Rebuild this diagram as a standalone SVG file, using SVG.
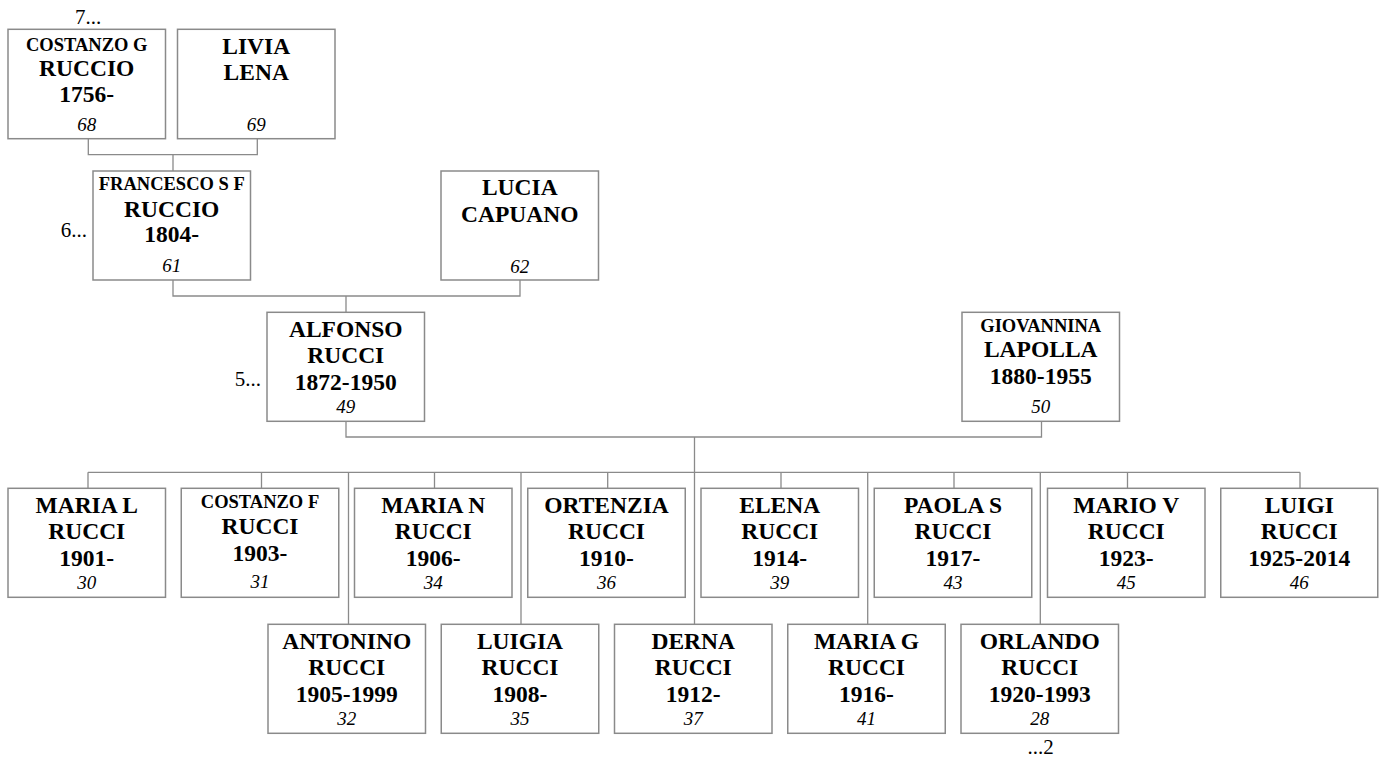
<svg xmlns="http://www.w3.org/2000/svg" width="1381" height="760" viewBox="0 0 1381 760">
<style>
rect.b{fill:#fff;stroke:#8a8a8a;stroke-width:1.5}
.c path{fill:none;stroke:#8a8a8a;stroke-width:1.3}
text{font-family:"Liberation Serif","Times New Roman",serif;fill:#000;text-anchor:middle}
.n{font-weight:bold;font-size:23.5px}
.s{font-weight:bold;font-size:18.5px}
.i{font-style:italic;font-size:19px}
.g{font-size:21px}
</style>
<rect width="1381" height="760" fill="#fff"/>
<g class="c" id="connectors">
<path d="M88.3,138.7V154.7H257.3V138.7M173,154.7V171"/>
<path d="M173,280V296H520V280M346,296V312.3"/>
<path d="M346,421.3V437H1041.5V421.3M694.5,437V624.3"/>
<path d="M88,472.3H1300"/>
<path d="M88,472.3V488.3M261.5,472.3V488.3M434.5,472.3V488.3M607.7,472.3V488.3M781,472.3V488.3M954,472.3V488.3M1127.5,472.3V488.3M1300,472.3V488.3"/>
<path d="M348.5,472.3V624.3M521,472.3V624.3M867.7,472.3V624.3M1040.3,472.3V624.3"/>
</g>
<text class="g" x="88" y="24">7...</text>
<text class="g" x="87" y="237" style="text-anchor:end">6...</text>
<text class="g" x="261" y="386" style="text-anchor:end">5...</text>
<text class="g" x="1040.5" y="754">...2</text>
<g id="n68"><rect class="b" x="8" y="29.3" width="157.5" height="109.4"/>
<text class="s" x="86.75" y="50.7">COSTANZO G</text><text class="n" x="86.75" y="76">RUCCIO</text><text class="n" x="86.75" y="101.7">1756-</text><text class="i" x="86.75" y="130.7">68</text></g>
<g id="n69"><rect class="b" x="177.5" y="29.3" width="157.5" height="109.4"/>
<text class="n" x="256.25" y="54">LIVIA</text><text class="n" x="256.25" y="80">LENA</text><text class="i" x="256.25" y="130.7">69</text></g>
<g id="n61"><rect class="b" x="93" y="171" width="157.5" height="109"/>
<text class="s" x="171.75" y="190">FRANCESCO S F</text><text class="n" x="171.75" y="216.5">RUCCIO</text><text class="n" x="171.75" y="242.3">1804-</text><text class="i" x="171.75" y="272.3">61</text></g>
<g id="n62"><rect class="b" x="441" y="171" width="157.5" height="109"/>
<text class="n" x="519.75" y="195">LUCIA</text><text class="n" x="519.75" y="221.7">CAPUANO</text><text class="i" x="519.75" y="273.3">62</text></g>
<g id="n49"><rect class="b" x="267" y="312.3" width="157.5" height="109"/>
<text class="n" x="345.75" y="336.8">ALFONSO</text><text class="n" x="345.75" y="363.3">RUCCI</text><text class="n" x="345.75" y="389.8">1872-1950</text><text class="i" x="345.75" y="412.6">49</text></g>
<g id="n50"><rect class="b" x="962" y="312.3" width="157.5" height="109"/>
<text class="s" x="1040.75" y="331.7">GIOVANNINA</text><text class="n" x="1040.75" y="357.3">LAPOLLA</text><text class="n" x="1040.75" y="384">1880-1955</text><text class="i" x="1040.75" y="412.7">50</text></g>
<g id="n30"><rect class="b" x="8" y="488.3" width="157.5" height="109"/>
<text class="n" x="86.75" y="512.8">MARIA L</text><text class="n" x="86.75" y="539.3">RUCCI</text><text class="n" x="86.75" y="565.8">1901-</text><text class="i" x="86.75" y="588.6">30</text></g>
<g id="n31"><rect class="b" x="181.25" y="488.3" width="157.5" height="109"/>
<text class="s" x="260" y="508.3">COSTANZO F</text><text class="n" x="260" y="534.3">RUCCI</text><text class="n" x="260" y="561">1903-</text><text class="i" x="260" y="587.7">31</text></g>
<g id="n34"><rect class="b" x="354.5" y="488.3" width="157.5" height="109"/>
<text class="n" x="433.25" y="512.8">MARIA N</text><text class="n" x="433.25" y="539.3">RUCCI</text><text class="n" x="433.25" y="565.8">1906-</text><text class="i" x="433.25" y="588.6">34</text></g>
<g id="n36"><rect class="b" x="527.75" y="488.3" width="157.5" height="109"/>
<text class="n" x="606.5" y="512.8">ORTENZIA</text><text class="n" x="606.5" y="539.3">RUCCI</text><text class="n" x="606.5" y="565.8">1910-</text><text class="i" x="606.5" y="588.6">36</text></g>
<g id="n39"><rect class="b" x="701" y="488.3" width="157.5" height="109"/>
<text class="n" x="779.75" y="512.8">ELENA</text><text class="n" x="779.75" y="539.3">RUCCI</text><text class="n" x="779.75" y="565.8">1914-</text><text class="i" x="779.75" y="588.6">39</text></g>
<g id="n43"><rect class="b" x="874.25" y="488.3" width="157.5" height="109"/>
<text class="n" x="953" y="512.8">PAOLA S</text><text class="n" x="953" y="539.3">RUCCI</text><text class="n" x="953" y="565.8">1917-</text><text class="i" x="953" y="588.6">43</text></g>
<g id="n45"><rect class="b" x="1047.5" y="488.3" width="157.5" height="109"/>
<text class="n" x="1126.25" y="512.8">MARIO V</text><text class="n" x="1126.25" y="539.3">RUCCI</text><text class="n" x="1126.25" y="565.8">1923-</text><text class="i" x="1126.25" y="588.6">45</text></g>
<g id="n46"><rect class="b" x="1220.75" y="488.3" width="157" height="109"/>
<text class="n" x="1299.25" y="512.8">LUIGI</text><text class="n" x="1299.25" y="539.3">RUCCI</text><text class="n" x="1299.25" y="565.8">1925-2014</text><text class="i" x="1299.25" y="588.6">46</text></g>
<g id="n32"><rect class="b" x="268" y="624.3" width="157.5" height="109"/>
<text class="n" x="346.75" y="648.8">ANTONINO</text><text class="n" x="346.75" y="675.3">RUCCI</text><text class="n" x="346.75" y="701.8">1905-1999</text><text class="i" x="346.75" y="724.6">32</text></g>
<g id="n35"><rect class="b" x="441.25" y="624.3" width="157.5" height="109"/>
<text class="n" x="520" y="648.8">LUIGIA</text><text class="n" x="520" y="675.3">RUCCI</text><text class="n" x="520" y="701.8">1908-</text><text class="i" x="520" y="724.6">35</text></g>
<g id="n37"><rect class="b" x="614.5" y="624.3" width="157.5" height="109"/>
<text class="n" x="693.25" y="648.8">DERNA</text><text class="n" x="693.25" y="675.3">RUCCI</text><text class="n" x="693.25" y="701.8">1912-</text><text class="i" x="693.25" y="724.6">37</text></g>
<g id="n41"><rect class="b" x="787.75" y="624.3" width="157.5" height="109"/>
<text class="n" x="866.5" y="648.8">MARIA G</text><text class="n" x="866.5" y="675.3">RUCCI</text><text class="n" x="866.5" y="701.8">1916-</text><text class="i" x="866.5" y="724.6">41</text></g>
<g id="n28"><rect class="b" x="961" y="624.3" width="157.5" height="109"/>
<text class="n" x="1039.75" y="648.8">ORLANDO</text><text class="n" x="1039.75" y="675.3">RUCCI</text><text class="n" x="1039.75" y="701.8">1920-1993</text><text class="i" x="1039.75" y="724.6">28</text></g>
</svg>
